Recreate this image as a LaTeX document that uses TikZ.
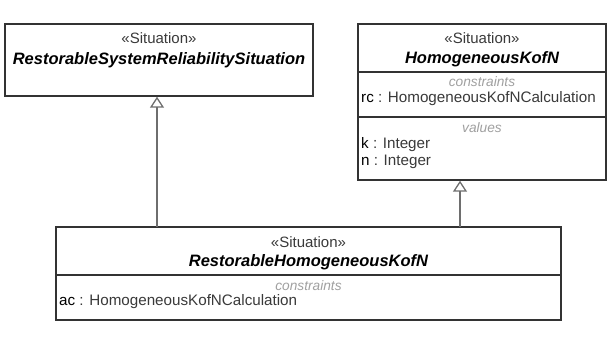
\documentclass[tikz,border=0pt]{standalone}
\usepackage{fontspec}
\setmainfont{Liberation Sans}
\usepackage{xcolor}
\usetikzlibrary{arrows.meta, positioning, calc}

\definecolor{umlline}{HTML}{333333}
\definecolor{umlarrow}{HTML}{6E6E6E}
\definecolor{umltext}{HTML}{3A3A3A}
\definecolor{umlsection}{HTML}{A0A0A0}

\begin{document}
\begin{tikzpicture}[
    x=1pt, y=-1pt,
    classbox/.style={rectangle, draw=umlline, line width=1.4pt, fill=white, inner sep=0pt},
    divider/.style={draw=umlline, line width=1.4pt},
    stereo/.style={font=\fontsize{15}{17}\selectfont, text=umltext, inner sep=0pt},
    classname/.style={font=\fontsize{16.5}{19}\selectfont\bfseries\itshape, text=black, inner sep=0pt},
    section/.style={font=\fontsize{13.7}{16}\selectfont\itshape, text=umlsection, inner sep=0pt},
    attr/.style={font=\fontsize{15.2}{17}\selectfont, text=umltext, anchor=west, inner sep=0pt},
    gen/.style={-{Triangle[open, width=14pt, length=11pt, line width=1.3pt]}, line width=1.3pt, draw=umlarrow}
]
\useasboundingbox (0,0) rectangle (608,341);

% class boxes
\node[classbox, minimum width=308, minimum height=72] (rsrs) at (159,60) {};
\node[classbox, minimum width=248, minimum height=156] (hkn) at (482,102) {};
\node[classbox, minimum width=505, minimum height=93] (rhkn) at (308.5,273.5) {};

% RestorableSystemReliabilitySituation
\node[stereo] (rsrs-st) at (159,38) {«Situation»};
\node[classname] (rsrs-nm) at (159,60) {RestorableSystemReliabilitySituation};

% HomogeneousKofN
\node[stereo] (hkn-st) at (482,38) {«Situation»};
\node[classname] (hkn-nm) at (482,59) {HomogeneousKofN};
\draw[divider] (hkn.west |- 0,72) -- (hkn.east |- 0,72);
\node[section] (hkn-cs) at (482,82) {constraints};
\node[attr] (hkn-rc) at (361,99) {\color{black}rc\color{umltext}{} : HomogeneousKofNCalculation};
\draw[divider] (hkn.west |- 0,117) -- (hkn.east |- 0,117);
\node[section] (hkn-vs) at (482,128) {values};
\node[attr] (hkn-k) at (361,145) {\color{black}k\color{umltext}{} : Integer};
\node[attr] (hkn-n) at (361,162) {\color{black}n\color{umltext}{} : Integer};

% RestorableHomogeneousKofN
\node[stereo] (rhkn-st) at (308.5,242) {«Situation»};
\node[classname] (rhkn-nm) at (308.5,262) {RestorableHomogeneousKofN};
\draw[divider] (rhkn.west |- 0,275) -- (rhkn.east |- 0,275);
\node[section] (rhkn-cs) at (308.5,286) {constraints};
\node[attr] (rhkn-ac) at (59,302) {\color{black}ac\color{umltext}{} : HomogeneousKofNCalculation};

% generalisations
\coordinate (g1) at (157,227);
\coordinate (g2) at (460,227);
\draw[gen] (g1) -- (g1 |- rsrs.south);
\draw[gen] (g2) -- (g2 |- hkn.south);

\end{tikzpicture}
\end{document}
